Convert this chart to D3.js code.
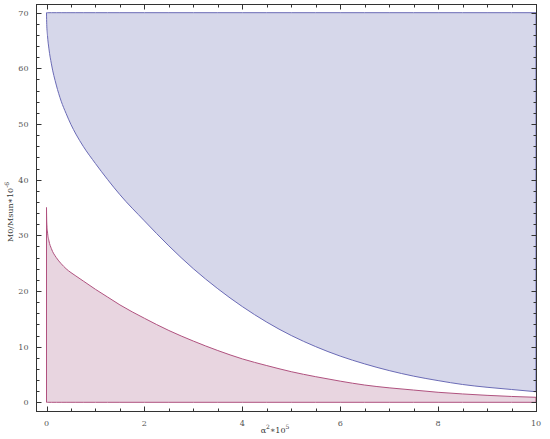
<!DOCTYPE html>
<html>
<head>
<meta charset="utf-8">
<script src="https://cdn.jsdelivr.net/npm/d3@7"></script>
<style>
  body { margin: 0; background: #fff; }
  svg { display: block; }
  text { font-family: "DejaVu Serif", serif; }
</style>
</head>
<body>
<svg id="chart" width="550" height="439"></svg>
<script>
// x values (alpha^2 * 10^5)
const xs = [0, 0.005, 0.02, 0.05, 0.1, 0.2, 0.3, 0.4, 0.5, 0.6, 0.75, 1, 1.25, 1.5, 2, 2.5, 3, 3.5, 4, 4.5, 5, 5.5, 6, 6.5, 7, 7.5, 8, 8.5, 9, 9.5, 10]
// upper boundary (blue region, from curve up to 70)
const upper = [70, 67.9, 65.9, 63.5, 60.8, 57, 54.1, 51.9, 49.9, 48.2, 46.0, 42.9, 40, 37.3, 32.6, 28.1, 24.0, 20.4, 17.2, 14.4, 12.0, 10.0, 8.3, 6.9, 5.7, 4.7, 3.9, 3.2, 2.7, 2.3, 1.9]
// lower curve (pink region, from 0 up to curve)
const lower = [35, 32.4, 30.6, 29.0, 27.6, 26.0, 24.9, 24.0, 23.3, 22.7, 21.8, 20.3, 18.9, 17.5, 15.1, 12.9, 11.0, 9.3, 7.8, 6.6, 5.5, 4.6, 3.8, 3.1, 2.6, 2.2, 1.8, 1.5, 1.25, 1.05, 0.9]
const topVal = 70
const xTicks = [0, 2, 4, 6, 8, 10]
const yTicks = [0, 10, 20, 30, 40, 50, 60, 70]

const svg = d3.select('#chart')
const frame = { left: 36.5, right: 536.5, top: 4.5, bottom: 411.5 }

const x = d3.scaleLinear().domain([0, 10]).range([46.5, 536])
const y = d3.scaleLinear().domain([0, 70]).range([402.3, 12.7])

const pts = xs.map((d, i) => ({ x: d, up: upper[i], lo: lower[i] }))

// 上面的区域
const blueArea = d3.area()
  .x(d => x(d.x))
  .y0(d => y(d.up))
  .y1(() => y(topVal))
  .curve(d3.curveMonotoneX)
svg.append('path')
  .datum(pts)
  .attr('d', blueArea)
  .attr('fill', '#d6d7ea')
  .attr('stroke', '#6b6bb6')
  .attr('stroke-width', 1)

// 下面的区域
const pinkArea = d3.area()
  .x(d => x(d.x))
  .y0(() => y(0))
  .y1(d => y(d.lo))
  .curve(d3.curveMonotoneX)
svg.append('path')
  .datum(pts)
  .attr('d', pinkArea)
  .attr('fill', '#e8d5e0')
  .attr('stroke', '#b0527f')
  .attr('stroke-width', 1)

// 坐标轴 (frame with ticks on all four sides)
const xMinor = d3.range(0, 10.01, 0.5).filter(v => v % 2 !== 0)
const yMinor = d3.range(0, 70.01, 2).filter(v => v % 10 !== 0)

const labels = svg.append('g')
  .attr('font-size', 8).attr('fill', '#555')
  .style('font-family', '"DejaVu Sans", sans-serif')
labels.selectAll('.xl').data(xTicks).join('text')
  .attr('x', d => x(d)).attr('y', frame.bottom + 14)
  .attr('text-anchor', 'middle')
  .text(d3.format('d'))
labels.selectAll('.yl').data(yTicks).join('text')
  .attr('x', frame.left - 8).attr('y', d => y(d) + 3)
  .attr('text-anchor', 'end')
  .text(d3.format('d'))

const ticks = svg.append('g').attr('stroke', '#333').attr('stroke-width', 1)
const tick = (x1, y1, x2, y2) => ticks.append('line').attr('x1', x1).attr('y1', y1).attr('x2', x2).attr('y2', y2)
xTicks.forEach(v => {
  const px = Math.round(x(v)) + 0.5
  tick(px, frame.bottom, px, frame.bottom - 5)
  tick(px, frame.top, px, frame.top + 5)
})
xMinor.forEach(v => {
  const px = Math.round(x(v)) + 0.5
  tick(px, frame.bottom, px, frame.bottom - 3)
  tick(px, frame.top, px, frame.top + 3)
})
yTicks.forEach(v => {
  const py = Math.round(y(v)) + 0.5
  tick(frame.left, py, frame.left + 5, py)
  tick(frame.right, py, frame.right - 5, py)
})
yMinor.forEach(v => {
  const py = Math.round(y(v)) + 0.5
  tick(frame.left, py, frame.left + 3, py)
  tick(frame.right, py, frame.right - 3, py)
})

svg.append('rect')
  .attr('x', frame.left).attr('y', frame.top)
  .attr('width', frame.right - frame.left).attr('height', frame.bottom - frame.top)
  .attr('fill', 'none').attr('stroke', '#333').attr('stroke-width', 1)

// 轴标题
const xl = svg.append('text')
  .attr('x', 275).attr('y', 433)
  .attr('text-anchor', 'middle')
  .attr('font-size', 8).attr('fill', '#333')
xl.append('tspan').text('α')
xl.append('tspan').attr('dy', -4).attr('font-size', 6).text('2')
xl.append('tspan').attr('dy', 4).text('∗10')
xl.append('tspan').attr('dy', -4).attr('font-size', 6).text('5')

const yl = svg.append('text')
  .attr('transform', 'translate(13,212) rotate(-90)')
  .attr('text-anchor', 'middle')
  .attr('font-size', 8).attr('fill', '#333')
yl.append('tspan').text('M0/Msun∗10')
yl.append('tspan').attr('dy', -4).attr('font-size', 6).text('-6')
</script>
</body>
</html>
